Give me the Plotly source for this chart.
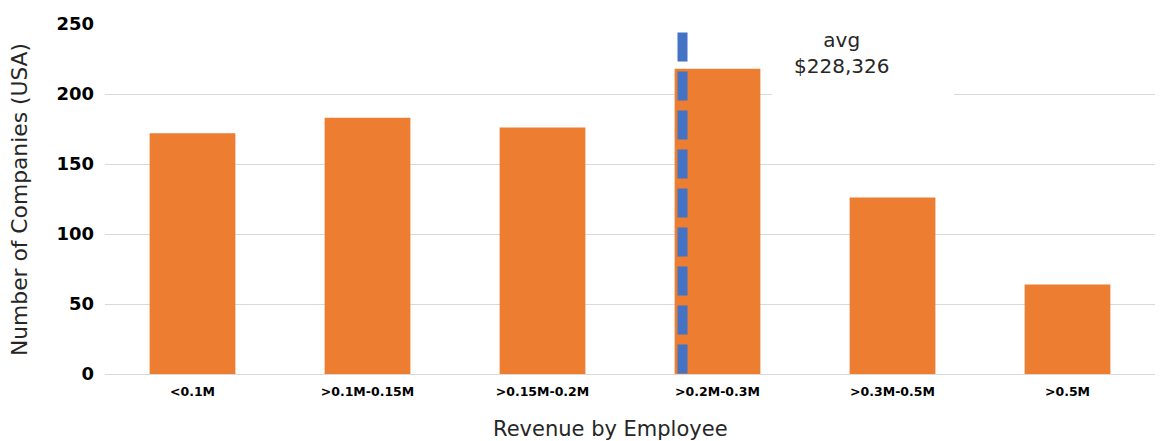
import plotly.graph_objects as go

categories = ["<0.1M", ">0.1M-0.15M", ">0.15M-0.2M", ">0.2M-0.3M", ">0.3M-0.5M", ">0.5M"]
companies = [172, 183, 176, 218, 126, 64]
avg_position = 2.80   # category-axis position of the average
avg_top = 244
avg_label = "avg<br>$228,326"
y_ticks = [0, 50, 100, 150, 200, 250]
x_title = "Revenue by Employee"
y_title = "Number of Companies (USA)"

fig = go.Figure()
fig.add_trace(go.Bar(x=list(range(len(categories))), y=companies,
                     marker=dict(color="#ED7D31", line=dict(width=0)),
                     width=0.49, hoverinfo="skip"))

# average dashed line
fig.add_shape(type="line", xref="x", yref="y", x0=avg_position, x1=avg_position,
              y0=avg_top, y1=0, line=dict(color="#4472C4", width=10, dash="29px,10px"),
              layer="above")
# white label background
fig.add_shape(type="rect", xref="x", yref="y", x0=3.311, x1=4.351, y0=195, y1=256,
              fillcolor="white", line=dict(width=0), layer="between")
fig.add_annotation(x=3.711, y=229, xref="x", yref="y", text=avg_label, showarrow=False,
                   font=dict(family="DejaVu Sans", size=20, color="#262626"), align="center")

# axis titles
fig.add_annotation(x=0.481, y=-0.157, xref="paper", yref="paper", text=x_title,
                   showarrow=False, xanchor="center", yanchor="middle",
                   font=dict(family="DejaVu Sans", size=21, color="#262626"))
fig.add_annotation(x=-0.0819, y=0.497, xref="paper", yref="paper", text=y_title,
                   showarrow=False, xanchor="center", yanchor="middle", textangle=-90,
                   font=dict(family="DejaVu Sans", size=21.8, color="#262626"))

fig.update_layout(
    width=1162, height=441,
    margin=dict(l=105, r=7, t=24, b=67, autoexpand=False),
    plot_bgcolor="white", paper_bgcolor="white",
    showlegend=False,
    xaxis=dict(range=[-0.5, 5.5], tickvals=list(range(len(categories))), ticktext=categories,
               showgrid=False, zeroline=False, showline=False, automargin=False,
               tickfont=dict(family="DejaVu Sans", size=12.5, color="black", weight="bold"),
               ticks="", ticklabelstandoff=8),
    yaxis=dict(range=[0, 250], tickvals=y_ticks, showgrid=True, gridcolor="#D9D9D9",
               gridwidth=1.3, zeroline=True, zerolinecolor="#D9D9D9", zerolinewidth=1.3,
               automargin=False,
               tickfont=dict(family="DejaVu Sans", size=18, color="black", weight="bold"),
               ticks="", ticklabelstandoff=10),
)

fig.write_html("out.html", config={"displayModeBar": False},
               post_script="document.body.style.margin='0';document.body.style.overflow='hidden';")
